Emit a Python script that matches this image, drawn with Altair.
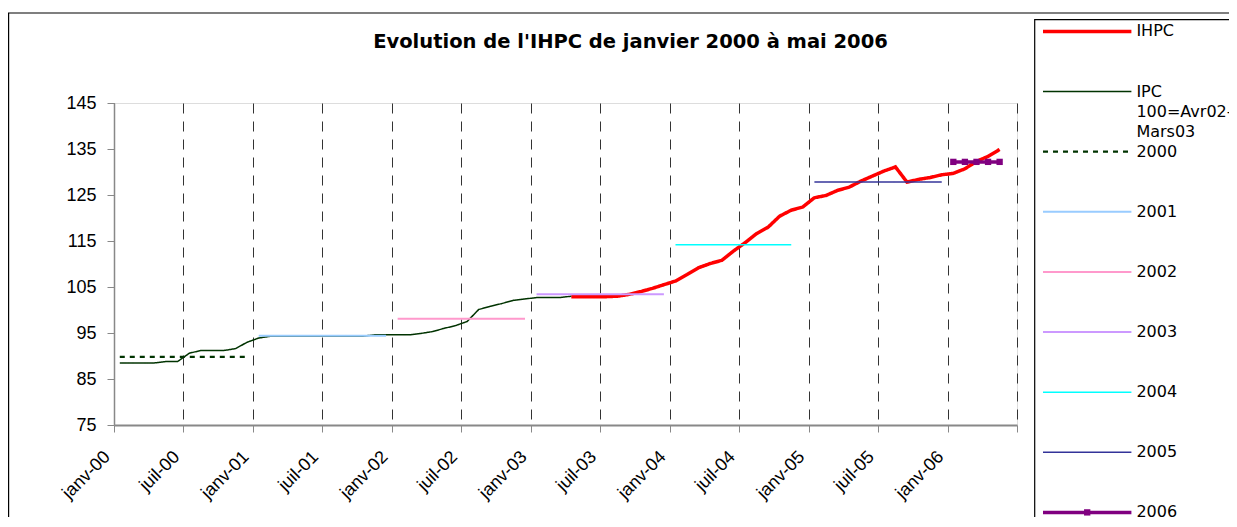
import altair as alt
import pandas as pd

FONT = "DejaVu Sans"

# ---- data -------------------------------------------------------------
# month index 0 = janv-00 ; tick every 6 months
tick_months = list(range(0, 79, 6))
tick_labels = ["janv-00", "juil-00", "janv-01", "juil-01", "janv-02", "juil-02",
               "janv-03", "juil-03", "janv-04", "juil-04", "janv-05", "juil-05",
               "janv-06", ""]
y_ticks = [75, 85, 95, 105, 115, 125, 135, 145]

ipc_start = 0
ipc_values = [88.5, 88.5, 88.5, 88.5, 88.8, 88.8, 90.6, 91.2, 91.2, 91.2, 91.6, 93.0,
              93.9, 94.3, 94.3, 94.3, 94.3, 94.3, 94.3, 94.3, 94.3, 94.3, 94.6, 94.6,
              94.6, 94.6, 94.9, 95.3, 96.0, 96.6, 97.5, 100.1, 100.8, 101.4, 102.1, 102.4,
              102.7, 102.7, 102.7, 103.0]

ihpc_start = 39
ihpc_values = [102.9, 102.9, 102.9, 102.9, 103.0, 103.4, 104.0, 104.7, 105.5,
               106.3, 107.7, 109.2, 110.1, 110.8, 112.8, 114.6, 116.6, 118.0, 120.4,
               121.7, 122.4, 124.4, 124.9, 126.0, 126.7, 128.0, 129.1, 130.2, 131.1,
               127.8, 128.4, 128.8, 129.4, 129.7, 130.7, 132.3, 133.4, 134.9]

avg_years = ["2000", "2001", "2002", "2003", "2004", "2005", "2006"]
avg_values = [89.8, 94.4, 98.1, 103.4, 114.2, 127.8, 132.2]
avg_first = [0, 12, 24, 36, 48, 60, 72]
avg_last = [11, 23, 35, 47, 58, 71, 76]

IPC_NAME = "IPC 100=Avr02-Mars03"
series = ["IHPC", IPC_NAME] + avg_years
labels = ["IHPC", "IPC|100=Avr02-|Mars03"] + avg_years
colors = ["#FF0000", "#003300", "#003300", "#99CCFF", "#FF99CC", "#CC99FF",
          "#00FFFF", "#333399", "#800080"]
widths = [3.5, 1.5, 2.2, 2, 2, 2, 1.5, 1.5, 3.5]
dashes = [[1, 0], [1, 0], [5, 5], [1, 0], [1, 0], [1, 0], [1, 0], [1, 0], [1, 0]]

# ---- tables -----------------------------------------------------------
width_of = dict(zip(series, widths))
rows = []
for k, v in enumerate(ihpc_values):
    rows.append({"series": "IHPC", "m": ihpc_start + k + 0.5, "v": v})
for k, v in enumerate(ipc_values):
    rows.append({"series": IPC_NAME, "m": ipc_start + k + 0.5, "v": v})
for yr, val, a, b in zip(avg_years, avg_values, avg_first, avg_last):
    for i in range(a, b + 1):
        rows.append({"series": yr, "m": i + 0.5, "v": val})
df = pd.DataFrame(rows)
df["w"] = df["series"].map(width_of)

leg_df = pd.DataFrame({"series": series, "label": labels, "w": widths,
                       "x0": [0.0] * len(series), "x1": [1.0] * len(series),
                       "xm": [0.5] * len(series)})

color_scale = alt.Scale(domain=series, range=colors)
dash_scale = alt.Scale(domain=series, range=dashes)

label_js = "[" + ",".join("'%s'" % t for t in tick_labels) + "]"

x_main = alt.X("m:Q", scale=alt.Scale(domain=[0, 78], nice=False, zero=False),
               axis=alt.Axis(values=tick_months, labelExpr=label_js + "[round(datum.value/6)]",
                             grid=True, gridDash=[10, 8], gridColor="#333333", gridWidth=1,
                             labelAngle=-45, labelAlign="right", labelBaseline="middle",
                             labelFontSize=18, labelPadding=22, labelOffset=-7, tickSize=7,
                             domainWidth=2, title=None))
y_main = alt.Y("v:Q", scale=alt.Scale(domain=[75, 145], nice=False, zero=False),
               axis=alt.Axis(values=y_ticks, grid=False, labelFontSize=18, tickSize=7,
                             labelPadding=11, domainWidth=1.5, title=None))

lines = alt.Chart(df).mark_line(clip=False).encode(
    x=x_main, y=y_main,
    color=alt.Color("series:N", scale=color_scale, legend=None),
    strokeWidth=alt.StrokeWidth("w:Q", scale=None),
    strokeDash=alt.StrokeDash("series:N", scale=dash_scale, legend=None),
    detail="series:N",
    order="m:Q",
)
markers = alt.Chart(df).transform_filter(alt.datum.series == "2006").mark_square(
    size=40, opacity=1, color="#800080").encode(x=x_main, y=y_main)

main = alt.layer(lines, markers)

# ---- legend drawn through its own scales ------------------------------
leg_x = alt.Scale(domain=[0, 1], range=[929, 1017.4])
leg_y = alt.Scale(type="point", domain=series, range=[-71.6, 409.4], padding=0)

leg_lines = alt.Chart(leg_df).mark_rule().encode(
    x=alt.X("x0:Q", scale=leg_x, axis=None),
    x2="x1:Q",
    y=alt.Y("series:N", scale=leg_y, axis=None),
    color=alt.Color("series:N", scale=color_scale, legend=None),
    strokeWidth=alt.StrokeWidth("w:Q", scale=None),
    strokeDash=alt.StrokeDash("series:N", scale=dash_scale, legend=None),
)
leg_mark = alt.Chart(leg_df).transform_filter(alt.datum.series == "2006").mark_square(
    size=40, opacity=1, color="#800080").encode(
    x=alt.X("xm:Q", scale=leg_x, axis=None),
    y=alt.Y("series:N", scale=leg_y, axis=None))
leg_text = alt.Chart(leg_df).mark_text(
    align="left", baseline="middle", dx=5, lineBreak="|", lineHeight=20,
    font=FONT, fontSize=16, color="black").encode(
    x=alt.X("x1:Q", scale=leg_x, axis=None),
    y=alt.Y("series:N", scale=leg_y, axis=None),
    text="label:N")

frame_df = pd.DataFrame({"k": [0]})
outer = alt.Chart(frame_df).mark_rect(fill=None, stroke="black", strokeWidth=1.2).encode(
    x=alt.value(-105.4), x2=alt.value(1200), y=alt.value(-90), y2=alt.value(450))
leg_box = alt.Chart(frame_df).mark_rect(fill=None, stroke="black", strokeWidth=1.2).encode(
    x=alt.value(920.7), x2=alt.value(1200), y=alt.value(-83.3), y2=alt.value(450))

legend = alt.layer(leg_box, leg_lines, leg_mark, leg_text)

chart = alt.layer(outer, main, legend).resolve_scale(
    x="independent", y="independent"
).properties(
    width=903, height=322,
    autosize=alt.AutoSizeParams(type="none"),
    padding={"left": 106, "top": 95, "right": 212, "bottom": 92},
    title=alt.TitleParams("Evolution de l'IHPC de janvier 2000 à mai 2006",
                          font=FONT, fontSize=19.5, fontWeight="bold", color="black",
                          anchor="middle", frame="group", dx=65, offset=0, dy=40),
).configure_view(stroke="black", strokeWidth=1.5).configure_axis(
    domainColor="black", tickColor="black", labelColor="black", labelFont=FONT,
).configure(background="white")

chart.save("out.html", embed_options={"renderer": "svg", "actions": False})
